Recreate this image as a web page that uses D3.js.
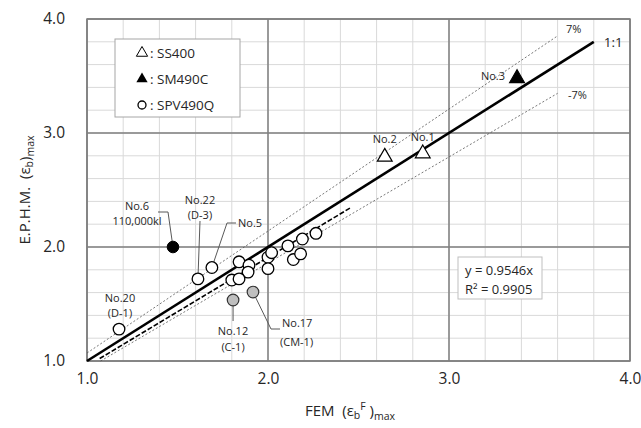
<!DOCTYPE html>
<html><head><meta charset="utf-8">
<script src="https://cdn.jsdelivr.net/npm/d3@7"></script>
<style>
body{margin:0;background:#fff;}
svg{display:block;font-family:"Open Sans","Noto Sans",sans-serif;}
</style></head>
<body><svg id="c" width="641" height="428"></svg>
<script>
// ---- data ----
const tickValues = [1.0, 2.0, 3.0, 4.0];
const ss400 = [ {id:"No.2", x:2.645, y:2.79}, {id:"No.1", x:2.855, y:2.82} ];
const sm490c = [ {id:"No.3", x:3.376, y:3.48} ];
const spv490q = [
  {x:1.177,y:1.28},{x:1.613,y:1.72},{x:1.69,y:1.82},{x:1.84,y:1.87},{x:1.895,y:1.84},
  {x:1.89,y:1.78},{x:1.80,y:1.71},{x:1.84,y:1.72},{x:2.0,y:1.91},{x:2.02,y:1.95},
  {x:2.0,y:1.81},{x:2.11,y:2.01},{x:2.19,y:2.07},{x:2.265,y:2.12},{x:2.14,y:1.89},{x:2.18,y:1.94}
];
const spvGray = [ {id:"No.17", x:1.917, y:1.605}, {id:"No.12", x:1.807, y:1.535} ];
const spvBlack = [ {id:"No.6", x:1.475, y:2.0} ];
const slope = 0.9546, r2 = 0.9905;
const bandPct = 0.07;
const legendItems = ["SS400", "SM490C", "SPV490Q"];

// ---- layout ----
const svg = d3.select("#c");
const x = d3.scaleLinear().domain([1,4]).range([87,630]);
const y = d3.scaleLinear().domain([1,4]).range([361,19]);
const g = svg.append("g");
const NB = "\u00a0";

// grid
const minor = d3.range(1, 4.0001, 0.2).map(v => +v.toFixed(1));
g.selectAll(".vmin").data(minor).join("line")
  .attr("x1", d=>x(d)).attr("x2", d=>x(d)).attr("y1", y(1)).attr("y2", y(4))
  .attr("stroke", "#d9d9d9").attr("stroke-width", 1);
g.selectAll(".hmin").data(minor).join("line")
  .attr("y1", d=>y(d)).attr("y2", d=>y(d)).attr("x1", x(1)).attr("x2", x(4))
  .attr("stroke", "#d9d9d9").attr("stroke-width", 1);
g.selectAll(".vmaj").data(tickValues).join("line")
  .attr("x1", d=>x(d)).attr("x2", d=>x(d)).attr("y1", y(1)).attr("y2", y(4))
  .attr("stroke", "#7f7f7f").attr("stroke-width", 1.5);
g.selectAll(".hmaj").data(tickValues).join("line")
  .attr("y1", d=>y(d)).attr("y2", d=>y(d)).attr("x1", x(1)).attr("x2", x(4))
  .attr("stroke", "#7f7f7f").attr("stroke-width", 1.5);

// axes labels
const xa = svg.append("g").attr("transform", `translate(0,${y(1)})`)
  .call(d3.axisBottom(x).tickValues(tickValues).tickFormat(d3.format(".1f")).tickSize(0).tickPadding(12));
const ya = svg.append("g").attr("transform", `translate(${x(1)},0)`)
  .call(d3.axisLeft(y).tickValues(tickValues).tickFormat(d3.format(".1f")).tickSize(0).tickPadding(22));
[xa, ya].forEach(a => {
  a.select(".domain").remove();
  a.selectAll("text").attr("font-size", 15.5).attr("fill", "#262626")
   .attr("font-family", "'Open Sans','Noto Sans',sans-serif");
});

// axis titles
const xt = svg.append("text").attr("x", 350).attr("y", 416).attr("text-anchor", "middle")
  .attr("font-size", 15).attr("fill", "#262626");
xt.append("tspan").text("FEM" + NB + NB + "(ε");
xt.append("tspan").text("b").attr("font-size", 10.5).attr("dy", 3);
xt.append("tspan").text("F").attr("font-size", 10.5).attr("dy", -9);
xt.append("tspan").text(NB + ")").attr("dy", 6);
xt.append("tspan").text("max").attr("font-size", 10.5).attr("dy", 4);

const yt = svg.append("text").attr("transform", "translate(30,190) rotate(-90)")
  .attr("text-anchor", "middle").attr("font-size", 15).attr("fill", "#262626");
yt.append("tspan").text("E.P.H.M." + NB + NB + "(ε");
yt.append("tspan").text("b").attr("font-size", 10.5).attr("dy", 3);
yt.append("tspan").text(")").attr("dy", -3);
yt.append("tspan").text("max").attr("font-size", 10.5).attr("dy", 4);

// plot frame
g.append("rect").attr("x", x(1)).attr("y", y(4)).attr("width", x(4)-x(1)).attr("height", y(1)-y(4))
  .attr("fill", "none").attr("stroke", "#7f7f7f").attr("stroke-width", 1.5);

// lines
const line = d3.line().x(d=>x(d[0])).y(d=>y(d[1]));
const upperEnd = 3.6, lowerStart = 1/(1-bandPct);
g.append("path").attr("d", line([[1,1+bandPct],[upperEnd, upperEnd*(1+bandPct)]]))
  .attr("stroke", "#555").attr("stroke-width", 0.8).attr("stroke-dasharray", "2,2").attr("fill", "none");
g.append("path").attr("d", line([[lowerStart,1],[upperEnd, upperEnd*(1-bandPct)]]))
  .attr("stroke", "#555").attr("stroke-width", 0.8).attr("stroke-dasharray", "2,2").attr("fill", "none");
g.append("path").attr("d", line([[1,1],[3.8,3.8]]))
  .attr("stroke", "#000").attr("stroke-width", 2.6).attr("fill", "none");
g.append("path").attr("d", line([[1.07,1.07*slope],[2.46,2.46*slope]]))
  .attr("stroke", "#000").attr("stroke-width", 1.6).attr("stroke-dasharray", "5,2").attr("fill", "none");

g.append("text").attr("x", x(3.8)+10).attr("y", y(3.8)+5).text("1:1").attr("font-size", 13.5).attr("fill", "#262626");
g.append("text").attr("x", 566).attr("y", 33).text("7%").attr("font-size", 11).attr("fill", "#262626");
g.append("text").attr("x", 568).attr("y", 99).text("-7%").attr("font-size", 11).attr("fill", "#262626");

// leader lines (drawn under markers)
const leader = (pts) => g.append("polyline").attr("points", pts.map(p=>p.join(",")).join(" "))
  .attr("fill", "none").attr("stroke", "#595959").attr("stroke-width", 1);
const p6 = spvBlack[0], p17 = spvGray[0], p12 = spvGray[1];
leader([[158,212],[168,212],[x(p6.x), y(p6.y)]]);
leader([[200,221],[x(spv490q[1].x), y(spv490q[1].y)]]);
leader([[236,223],[227,223],[x(spv490q[2].x), y(spv490q[2].y)]]);
leader([[x(p12.x),y(p12.y)],[x(p12.x),321]]);
leader([[x(p17.x),y(p17.y)],[271,329],[280,329]]);

// markers
const tri = d3.symbol().type(d3.symbolTriangle).size(95);
g.selectAll(".ss").data(ss400).join("path").attr("d", tri)
  .attr("transform", d=>`translate(${x(d.x)},${y(d.y)})`)
  .attr("fill", "#fff").attr("stroke", "#000").attr("stroke-width", 1.2);
g.selectAll(".sm").data(sm490c).join("path").attr("d", tri)
  .attr("transform", d=>`translate(${x(d.x)},${y(d.y)})`)
  .attr("fill", "#000").attr("stroke", "#000").attr("stroke-width", 1.2);
g.selectAll(".spv").data(spv490q).join("circle")
  .attr("cx", d=>x(d.x)).attr("cy", d=>y(d.y)).attr("r", 5.8)
  .attr("fill", "#fff").attr("stroke", "#000").attr("stroke-width", 1.3);
g.selectAll(".spvg").data(spvGray).join("circle")
  .attr("cx", d=>x(d.x)).attr("cy", d=>y(d.y)).attr("r", 5.8)
  .attr("fill", "#bfbfbf").attr("stroke", "#333").attr("stroke-width", 1.2);
g.selectAll(".spvb").data(spvBlack).join("circle")
  .attr("cx", d=>x(d.x)).attr("cy", d=>y(d.y)).attr("r", 5.8)
  .attr("fill", "#000").attr("stroke", "#000");

// annotations
const ann = (tx, ty, txt, anchor) => g.append("text").attr("x", tx).attr("y", ty).text(txt)
  .attr("font-size", 11).attr("fill", "#262626").attr("text-anchor", anchor || "middle");
ann(x(ss400[0].x), y(ss400[0].y)-14, "No.2");
ann(x(ss400[1].x), y(ss400[1].y)-13, "No.1");
ann(x(sm490c[0].x)-12, y(sm490c[0].y)+2, "No.3", "end");
ann(137, 210, "No.6");
ann(137, 225, "110,000kl");
ann(200, 204, "No.22");
ann(200, 219, "(D-3)");
ann(238, 227, "No.5", "start");
ann(120, 302, "No.20");
ann(120, 317, "(D-1)");
ann(233, 335, "No.12");
ann(233, 351, "(C-1)");
ann(282, 327, "No.17", "start");
ann(280, 346, "(CM-1)", "start");

// legend
const lg = svg.append("g");
lg.append("rect").attr("x", 115).attr("y", 39).attr("width", 125).attr("height", 78)
  .attr("fill", "#fff").attr("stroke", "#a6a6a6");
const ly = [53, 79, 105];
const legSym = [
  s => s.append("path").attr("d", d3.symbol().type(d3.symbolTriangle).size(55)).attr("fill", "#fff").attr("stroke", "#000").attr("stroke-width", 1),
  s => s.append("path").attr("d", d3.symbol().type(d3.symbolTriangle).size(55)).attr("fill", "#000"),
  s => s.append("circle").attr("r", 4).attr("fill", "#fff").attr("stroke", "#000").attr("stroke-width", 1.3)
];
legendItems.forEach((t, i) => {
  const s = lg.append("g").attr("transform", `translate(142,${ly[i]})`);
  legSym[i](s);
  lg.append("text").attr("x", 150).attr("y", ly[i]+5).text(":" + NB + t)
    .attr("font-size", 13.5).attr("fill", "#262626");
});

// regression box
const rb = svg.append("g");
rb.append("rect").attr("x", 458).attr("y", 257).attr("width", 84).attr("height", 42)
  .attr("fill", "#fff").attr("stroke", "#bfbfbf");
rb.append("text").attr("x", 465).attr("y", 275).text(`y = ${slope}x`).attr("font-size", 13).attr("fill", "#262626");
rb.append("text").attr("x", 465).attr("y", 294).text(`R² = ${r2}`).attr("font-size", 13).attr("fill", "#262626");
</script></body></html>
